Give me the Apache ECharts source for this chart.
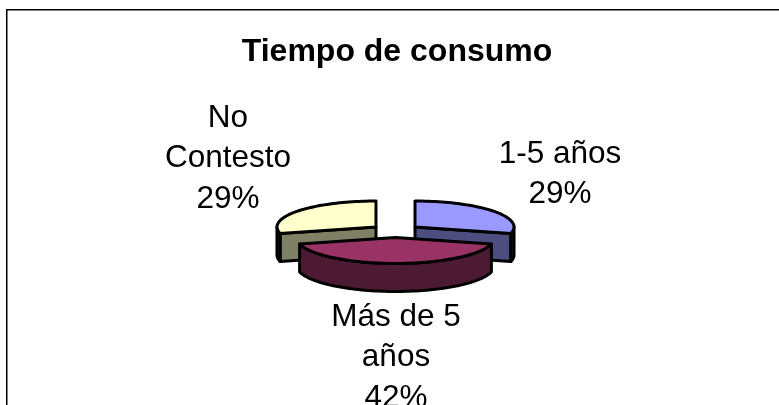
<!DOCTYPE html>
<html><head><meta charset="utf-8">
<style>html,body{margin:0;padding:0;background:#fff}#c{width:779px;height:405px}</style>
<script src="https://cdn.jsdelivr.net/npm/echarts@6/dist/echarts.min.js"></script>
</head><body><div id="c"></div>
<script>
const titleText = 'Tiempo de consumo';
const categories = ['1-5 años', 'Más de 5 años', 'No Contesto'];
const labelLines = [['1-5 años', '29%'], ['Más de 5', 'años', '42%'], ['No', 'Contesto', '29%']];
const values = [29, 42, 29];
const topColors = ['#9999FF', '#993366', '#FFFFCC'];
const wallColors = ['#4D4D80', '#4D1A33', '#808066'];

const layout = {
  cx: 395.5, cy: 231, rx: 99, ry: 26, depth: 28, explode: 24.7,
  labelAt: [[560, 174], [396, 337], [228, 138]], labelLine: 40.5, font: 31.5
};
const total = values.reduce((a, b) => a + b, 0);
const rad = d => d * Math.PI / 180;

function renderSlice(params, api) {
  const i = params.dataIndex;
  let before = 0;
  for (let k = 0; k < i; k++) before += values[k];
  const a0 = before / total * 360, a1 = a0 + api.value(0) / total * 360, mid = (a0 + a1) / 2;
  const L = layout, k = L.ry / L.rx;
  const ox = L.cx + L.explode * Math.sin(rad(mid));
  const oy = L.cy - L.explode * k * Math.cos(rad(mid));
  const pt = (a, dz) => [ox + L.rx * Math.sin(rad(a)), oy - L.ry * Math.cos(rad(a)) + (dz || 0)];
  const arc = (s, e, dz) => {
    const out = [], n = Math.max(2, Math.ceil(Math.abs(e - s) / 2));
    for (let j = 0; j <= n; j++) out.push(pt(s + (e - s) * j / n, dz));
    return out;
  };
  const line = { stroke: '#000', lineWidth: 3, lineJoin: 'round' };
  const kids = [];
  const poly = (points, fill) => kids.push({ type: 'polygon', shape: { points }, style: Object.assign({ fill }, line) });
  const apex = [ox, oy], apexLow = [ox, oy + L.depth];
  if (Math.cos(rad(a0 - 90)) < -1e-6) poly([apex, pt(a0), pt(a0, L.depth), apexLow], wallColors[i]);
  if (Math.cos(rad(a1 + 90)) < -1e-6) poly([apex, pt(a1), pt(a1, L.depth), apexLow], wallColors[i]);
  const s = Math.max(a0, 90), e = Math.min(a1, 270);
  if (e > s) poly(arc(s, e, 0).concat(arc(e, s, L.depth)), wallColors[i]);
  poly([apex].concat(arc(a0, a1, 0)), topColors[i]);
  labelLines[i].forEach((t, n) => kids.push({
    type: 'text', z2: 10,
    style: { text: t, x: L.labelAt[i][0], y: L.labelAt[i][1] - 20 + n * L.labelLine,
      fill: '#000', font: L.font + 'px "Liberation Sans", Arial, sans-serif', textAlign: 'center', textVerticalAlign: 'middle' }
  }));
  kids.forEach(c => { if (c.type !== 'text') c.z2 = Math.round(-Math.cos(rad(mid)) * 5) + 5; });
  return { type: 'group', children: kids };
}

const chart = echarts.init(document.getElementById('c'), null, { renderer: 'canvas' });
chart.setOption({
  animation: false,
  backgroundColor: '#fff',
  title: { text: titleText, left: 392, top: 31, textAlign: 'center',
    textStyle: { fontFamily: '"Liberation Sans", Arial, sans-serif', fontWeight: 'bold', fontSize: 32, color: '#000' } },
  graphic: [{ type: 'polyline', shape: { points: [[6.75, 405], [6.75, 9.75], [779, 9.75]] },
    style: { stroke: '#000', lineWidth: 1.5, fill: null }, silent: true }],
  series: [{
    type: 'custom', coordinateSystem: 'none', renderItem: renderSlice,
    data: values.map((v, i) => ({ name: categories[i], value: [v] }))
  }]
});
</script></body></html>
